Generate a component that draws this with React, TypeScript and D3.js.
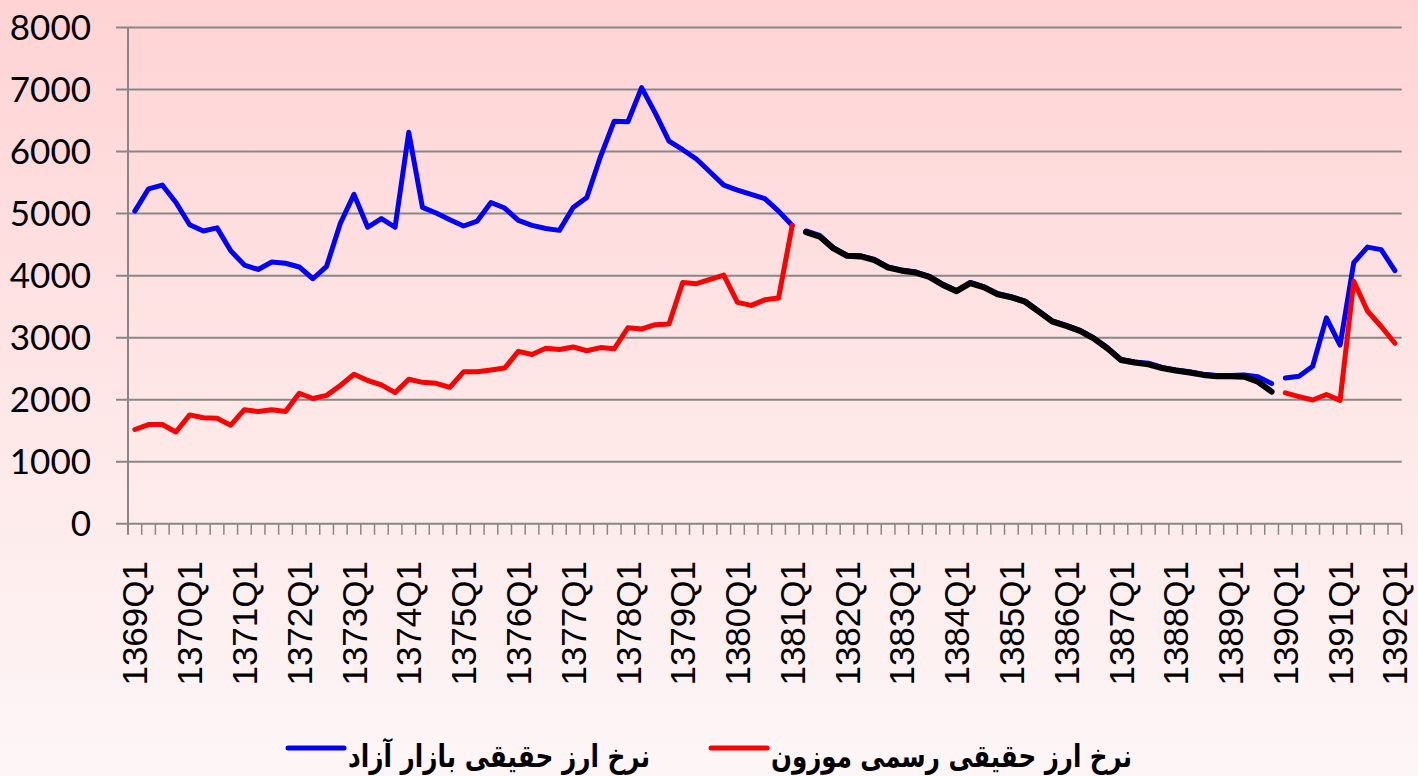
import React from 'react';
import * as d3 from 'd3';

// quarters 1369Q1 .. 1392Q1
const years = d3.range(1369, 1393);
const quarters = years.flatMap((y) => (y === 1392 ? [`${y}Q1`] : [1, 2, 3, 4].map((q) => `${y}Q${q}`)));

// نرخ ارز حقیقی بازار آزاد (free market real rate)
const freeMarket = [
  5040, 5400, 5460, 5180, 4820, 4720, 4770, 4400, 4170, 4100, 4220, 4200,
  4140, 3950, 4150, 4840, 5310, 4780, 4920, 4780, 6310, 5100, 5010, 4900,
  4800, 4880, 5180, 5090, 4890, 4810, 4760, 4730, 5100, 5260, 5920, 6490,
  6480, 7030, 6620, 6170, 6030, 5880, 5670, 5460, 5380, 5310, 5240, 5040,
  4810,
  4720, 4650, 4450, 4330, 4320, 4260, 4140, 4090, 4060, 3990, 3860, 3760,
  3890, 3820, 3710, 3660, 3590, 3430, 3270, 3200, 3120, 3000, 2840, 2650,
  2610, 2590, 2520, 2480, 2450, 2410, 2390, 2390, 2400, 2370, 2260,
  2350, 2380, 2540, 3320, 2880, 4210, 4460, 4420, 4080,
];

// نرخ ارز حقیقی رسمی موزون (weighted official real rate), no data 1381Q2-1389Q4
const officialBefore = [
  1520, 1600, 1600, 1480, 1755, 1710, 1700, 1590, 1840, 1810, 1840, 1810,
  2105, 2020, 2070, 2230, 2410, 2310, 2240, 2115, 2330, 2280, 2265, 2200,
  2450, 2450, 2480, 2510, 2780, 2730, 2830, 2810, 2850, 2790, 2840, 2820,
  3160, 3140, 3210, 3220, 3890, 3870, 3940, 4010, 3570, 3520, 3610, 3640,
  4810,
];
const officialAfter = [2110, 2050, 1995, 2085, 1990, 3910, 3430, 3180, 2910];

// unified rate period 1381Q2-1389Q4 (black)
const unified = [
  4700, 4630, 4440, 4320, 4310, 4250, 4130, 4080, 4050, 3980, 3850, 3750,
  3880, 3810, 3700, 3650, 3580, 3420, 3260, 3190, 3110, 2990, 2830, 2640,
  2600, 2570, 2510, 2470, 2440, 2400, 2380, 2380, 2370, 2290, 2130,
];

const yTicks = [0, 1000, 2000, 3000, 4000, 5000, 6000, 7000, 8000];
const legendItems = [
  { label: 'نرخ ارز حقیقی بازار آزاد', color: '#0000ff', x: 288, textWidth: 302 },
  { label: 'نرخ ارز حقیقی رسمی موزون', color: '#ff0000', x: 711, textWidth: 361 },
];

const gap = (n: number) => new Array(n).fill(null);

export default function App() {
  const width = 1418;
  const height = 776;
  const left = 128;
  const right = 1401.7;
  const top = 27.5;
  const bottom = 523.8;

  const x = d3.scaleBand().domain(quarters).range([left, right]).padding(0);
  const y = d3.scaleLinear().domain([0, 8000]).range([bottom, top]);
  const cx = (i: number) => (x(quarters[i]) ?? 0) + x.bandwidth() / 2;

  const line = d3
    .line<number | null>()
    .defined((d) => d != null)
    .x((_, i) => cx(i))
    .y((d) => y(d as number));

  // blue breaks at 1381Q1/Q2 and 1389Q4/1390Q1
  const bluePts = freeMarket.map((v, i) => [i, v] as [number, number | null]);
  const blueParts = [bluePts.slice(0, 49), bluePts.slice(49, 84), bluePts.slice(84)];
  const lineIdx = d3
    .line<[number, number | null]>()
    .x((d) => cx(d[0]))
    .y((d) => y(d[1] as number));

  const redSeries = [...officialBefore, ...gap(35), ...officialAfter];
  const blackSeries = [...gap(49), ...unified, ...gap(9)];

  const grid = '#878787';

  return (
    <>
      <style>{'body{margin:0}'}</style>
      <svg width={width} height={height} style={{ display: 'block' }}>
        <defs>
          <linearGradient id="bg" x1="0" y1="0" x2="0" y2="1">
            <stop offset="0" stopColor="#ffd3d4" />
            <stop offset="0.55" stopColor="#fee8e8" />
            <stop offset="1" stopColor="#fdf6f7" />
          </linearGradient>
        </defs>
        <rect width={width} height={height} fill="url(#bg)" />

        {yTicks.map((t) => (
          <g key={t}>
            <line x1={116} x2={right} y1={y(t)} y2={y(t)} stroke={grid} strokeWidth={2} />
            <text
              x={91}
              y={y(t)}
              dy="0.36em"
              textAnchor="end"
              fontFamily="Lato, 'Open Sans', sans-serif"
              fontSize={35}
              fill="#000"
            >
              {t}
            </text>
          </g>
        ))}
        <line x1={left} x2={left} y1={top} y2={bottom + 11} stroke={grid} strokeWidth={2} />
        {quarters.map((q) => (
          <line
            key={q}
            x1={(x(q) ?? 0) + x.bandwidth()}
            x2={(x(q) ?? 0) + x.bandwidth()}
            y1={bottom}
            y2={bottom + 11}
            stroke={grid}
            strokeWidth={1.5}
          />
        ))}
        {quarters.map((q, i) =>
          q.endsWith('Q1') ? (
            <text
              key={q}
              transform={`translate(${cx(i)},${561}) rotate(-90)`}
              dy="0.36em"
              textAnchor="end"
              fontFamily="'Liberation Sans', Arial, sans-serif"
              fontSize={35}
              fill="#000"
            >
              {q}
            </text>
          ) : null
        )}

        {blueParts.map((part, k) => (
          <path key={k} d={lineIdx(part) ?? ''} fill="none" stroke="#0000ff" strokeWidth={5} strokeLinejoin="round" strokeLinecap="round" />
        ))}
        <path d={line(redSeries) ?? ''} fill="none" stroke="#ff0000" strokeWidth={5} strokeLinejoin="round" strokeLinecap="round" />
        <path d={line(blackSeries) ?? ''} fill="none" stroke="#000000" strokeWidth={6} strokeLinejoin="round" strokeLinecap="round" />

        {legendItems.map((it) => (
          <g key={it.label}>
            <line x1={it.x} x2={it.x + 56} y1={748} y2={748} stroke={it.color} strokeWidth={5} strokeLinecap="round" />
            <text
              x={it.x + 60}
              y={767}
              textAnchor="end"
              direction="rtl"
              textLength={it.textWidth}
              lengthAdjust="spacingAndGlyphs"
              fontFamily="'DejaVu Sans', sans-serif"
              fontWeight="bold"
              fontSize={31}
              fill="#000"
            >
              {it.label}
            </text>
          </g>
        ))}
      </svg>
    </>
  );
}
